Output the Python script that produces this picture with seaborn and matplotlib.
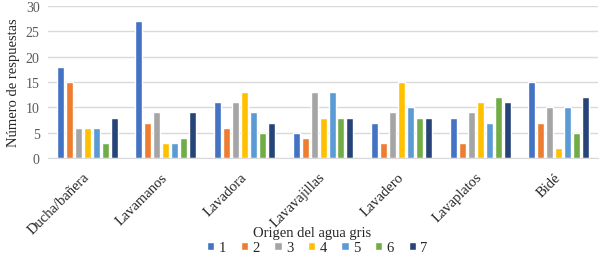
import pandas as pd
import seaborn as sns
import matplotlib.pyplot as plt
from matplotlib.patches import Patch

# Respuestas por origen del agua gris y puntuacion (1-7)
categorias = ["Ducha/bañera", "Lavamanos", "Lavadora", "Lavavajillas",
              "Lavadero", "Lavaplatos", "Bidé"]
niveles = ["1", "2", "3", "4", "5", "6", "7"]
valores = {
    "Ducha/bañera": [18, 15, 6, 6, 6, 3, 8],
    "Lavamanos": [27, 7, 9, 3, 3, 4, 9],
    "Lavadora": [11, 6, 11, 13, 9, 5, 7],
    "Lavavajillas": [5, 4, 13, 8, 13, 8, 8],
    "Lavadero": [7, 3, 9, 15, 10, 8, 8],
    "Lavaplatos": [8, 3, 9, 11, 7, 12, 11],
    "Bidé": [15, 7, 10, 2, 10, 5, 12],
}
colores = ["#4472C4", "#ED7D31", "#A5A5A5", "#FFC000",
           "#5B9BD5", "#70AD47", "#264478"]

rows = []
for cat in categorias:
    for niv, v in zip(niveles, valores[cat]):
        rows.append({"origen": cat, "nivel": niv, "respuestas": v})
df = pd.DataFrame(rows)

sns.set_style("white")
plt.rcParams["font.family"] = ["Liberation Serif", "DejaVu Serif"]

fig = plt.figure(figsize=(6.01, 2.55), dpi=100)
ax = fig.add_axes([0.08, 0.376, 0.915, 0.597])

sns.barplot(data=df, x="origen", y="respuestas", hue="nivel",
            order=categorias, hue_order=niveles, palette=colores,
            saturation=1, width=0.8, gap=0.22, ax=ax, legend=False)

ax.set_ylim(0, 30)
ax.set_yticks(range(0, 31, 5))
ax.yaxis.grid(True, color="#D9D9D9", linewidth=1)
ax.set_axisbelow(True)
for s in ["left", "right", "top"]:
    ax.spines[s].set_visible(False)
ax.spines["bottom"].set_color("#D9D9D9")
ax.tick_params(axis="y", length=0, labelsize=10, labelcolor="#595959", pad=6)
ax.tick_params(axis="x", length=0, labelsize=10.5, pad=12)
plt.setp(ax.get_xticklabels(), rotation=45, ha="right", va="center",
         rotation_mode="anchor")
ax.set_xlim(-0.5, len(categorias) - 0.5)

ax.set_ylabel("Número de respuestas", fontsize=10.5, labelpad=4)
ax.set_xlabel("")
fig.text(0.52, 0.086, "Origen del agua gris", ha="center", va="center",
         fontsize=10.5)

handles = [Patch(facecolor=c, label=n) for c, n in zip(colores, niveles)]
fig.legend(handles=handles, loc="center", bbox_to_anchor=(0.528, 0.024),
           ncol=7, frameon=False, fontsize=10.5, handlelength=0.5,
           handleheight=0.5, handletextpad=0.3, columnspacing=1.0,
           borderaxespad=0, borderpad=0)

fig.savefig("out.png", dpi=100)
